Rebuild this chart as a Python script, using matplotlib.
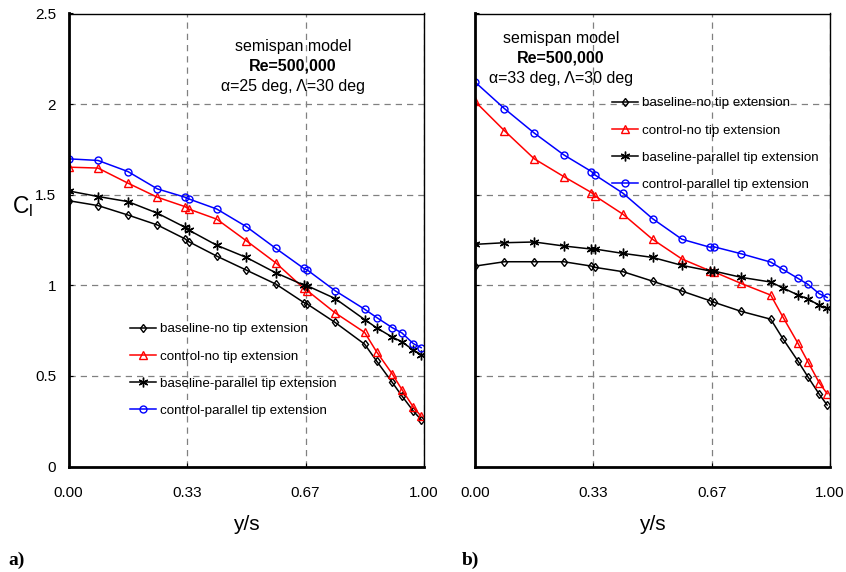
import matplotlib
matplotlib.use("Agg")
import matplotlib.pyplot as plt

plt.rcParams['font.family'] = ['Liberation Sans', 'DejaVu Sans']

# spanwise stations (y/s)
span = [0, 0.083, 0.167, 0.25, 0.328, 0.338, 0.417, 0.5, 0.583, 0.662, 0.672,
        0.75, 0.833, 0.867, 0.91, 0.938, 0.97, 0.992]

# alpha = 25 deg
a25_base_no = [1.467, 1.440, 1.388, 1.333, 1.256, 1.241, 1.161, 1.084, 1.007, 0.905, 0.896,
               0.795, 0.675, 0.581, 0.466, 0.389, 0.306, 0.258]
a25_ctrl_no = [1.652, 1.647, 1.564, 1.486, 1.434, 1.421, 1.365, 1.246, 1.124, 0.983, 0.970,
               0.848, 0.740, 0.632, 0.513, 0.424, 0.328, 0.277]
a25_base_par = [1.521, 1.490, 1.462, 1.398, 1.320, 1.305, 1.221, 1.154, 1.069, 1.001, 0.997,
                0.927, 0.811, 0.765, 0.715, 0.688, 0.642, 0.618]
a25_ctrl_par = [1.698, 1.689, 1.628, 1.532, 1.486, 1.477, 1.421, 1.324, 1.204, 1.093, 1.084,
                0.970, 0.868, 0.822, 0.767, 0.737, 0.678, 0.656]

# alpha = 33 deg
a33_base_no = [1.106, 1.130, 1.130, 1.130, 1.106, 1.099, 1.075, 1.023, 0.968, 0.915, 0.907,
               0.856, 0.813, 0.706, 0.581, 0.494, 0.398, 0.339]
a33_ctrl_no = [2.015, 1.853, 1.698, 1.600, 1.512, 1.493, 1.392, 1.254, 1.145, 1.080, 1.075,
               1.010, 0.946, 0.826, 0.679, 0.577, 0.461, 0.402]
a33_base_par = [1.226, 1.235, 1.239, 1.217, 1.200, 1.200, 1.176, 1.154, 1.110, 1.079, 1.079,
                1.044, 1.018, 0.986, 0.946, 0.925, 0.889, 0.872]
a33_ctrl_par = [2.122, 1.975, 1.840, 1.720, 1.628, 1.609, 1.508, 1.368, 1.254, 1.210, 1.213,
                1.174, 1.128, 1.088, 1.038, 1.005, 0.953, 0.933]

labels = ["baseline-no tip extension", "control-no tip extension",
          "baseline-parallel tip extension", "control-parallel tip extension"]
xticks = [0, 1/3, 2/3, 1]
xticklabels = ["0.00", "0.33", "0.67", "1.00"]
yticks = [0, 0.5, 1, 1.5, 2, 2.5]
yticklabels = ["0", "0.5", "1", "1.5", "2", "2.5"]

styles = [
    dict(color="black", marker="d", ms=4.5),
    dict(color="red", marker="^", ms=5.5),
    dict(color="black", marker=(6, 2, 0), ms=7),
    dict(color="blue", marker="o", ms=5),
]

W, H = 846, 572
fig = plt.figure(figsize=(W / 100, H / 100), dpi=100)


def px_axes(x0, x1, ytop, ybot):
    return fig.add_axes([x0 / W, 1 - ybot / H, (x1 - x0) / W, (ybot - ytop) / H])


def draw_panel(ax, series, show_ylabels):
    for vals, lab, st in zip(series, labels, styles):
        ax.plot(span, vals, lw=1.1, color=st["color"], marker=st["marker"],
                ms=st["ms"], mfc="none", mec=st["color"], mew=1.0, label=lab)
    ax.set_xlim(0, 1)
    ax.set_ylim(0, 2.5)
    ax.set_xticks(xticks)
    ax.set_xticklabels(xticklabels)
    ax.set_yticks(yticks)
    ax.set_yticklabels(yticklabels if show_ylabels else [])
    ax.grid(True, color="#808080", ls=(0, (5, 4)), lw=0.9)
    ax.set_axisbelow(True)
    ax.tick_params(direction="in", length=3, labelsize=11)
    ax.tick_params(axis="x", pad=14)
    ax.tick_params(axis="y", pad=9)
    for side in ("left", "bottom"):
        ax.spines[side].set_linewidth(2)
    for side in ("right", "top"):
        ax.spines[side].set_linewidth(1)
    ax.set_xlabel("y/s", fontsize=15, labelpad=11)


ax1 = px_axes(68.5, 424, 13.5, 466.5)
ax2 = px_axes(475, 830, 13.5, 466.5)

draw_panel(ax1, [a25_base_no, a25_ctrl_no, a25_base_par, a25_ctrl_par], True)
draw_panel(ax2, [a33_base_no, a33_ctrl_no, a33_base_par, a33_ctrl_par], False)

# run conditions
for ax, cx, cy, alpha in [(ax1, 293, 46, 25), (ax2, 561, 38, 33)]:
    fx = cx / W
    fig.text(fx, 1 - cy / H, "semispan model", ha="center", va="center", fontsize=11.5)
    fig.text(fx, 1 - (cy + 20) / H, "Re=500,000", ha="center", va="center",
             fontsize=11.5, fontweight="bold")
    fig.text(fx, 1 - (cy + 41) / H, "α=%d deg, Λ=30 deg" % alpha,
             ha="center", va="center", fontsize=11.5)

leg_kw = dict(frameon=False, fontsize=9.6, handlelength=1.95, handletextpad=0.3,
              labelspacing=1.12, borderpad=0, borderaxespad=0, loc="upper left",
              bbox_transform=fig.transFigure)
ax1.legend(bbox_to_anchor=(130 / W, 1 - 323 / H), **leg_kw)
ax2.legend(bbox_to_anchor=(612 / W, 1 - 97 / H), **leg_kw)

fig.text(12 / W, 1 - 207 / H, r"C$_\mathregular{l}$", fontsize=16.5, ha="left", va="center")
fig.text(8 / W, 1 - 560 / H, "a)", fontsize=14, fontweight="bold",
         family="Liberation Serif", va="center")
fig.text(462 / W, 1 - 560 / H, "b)", fontsize=14, fontweight="bold",
         family="Liberation Serif", va="center")

fig.savefig("out.png", dpi=100)
